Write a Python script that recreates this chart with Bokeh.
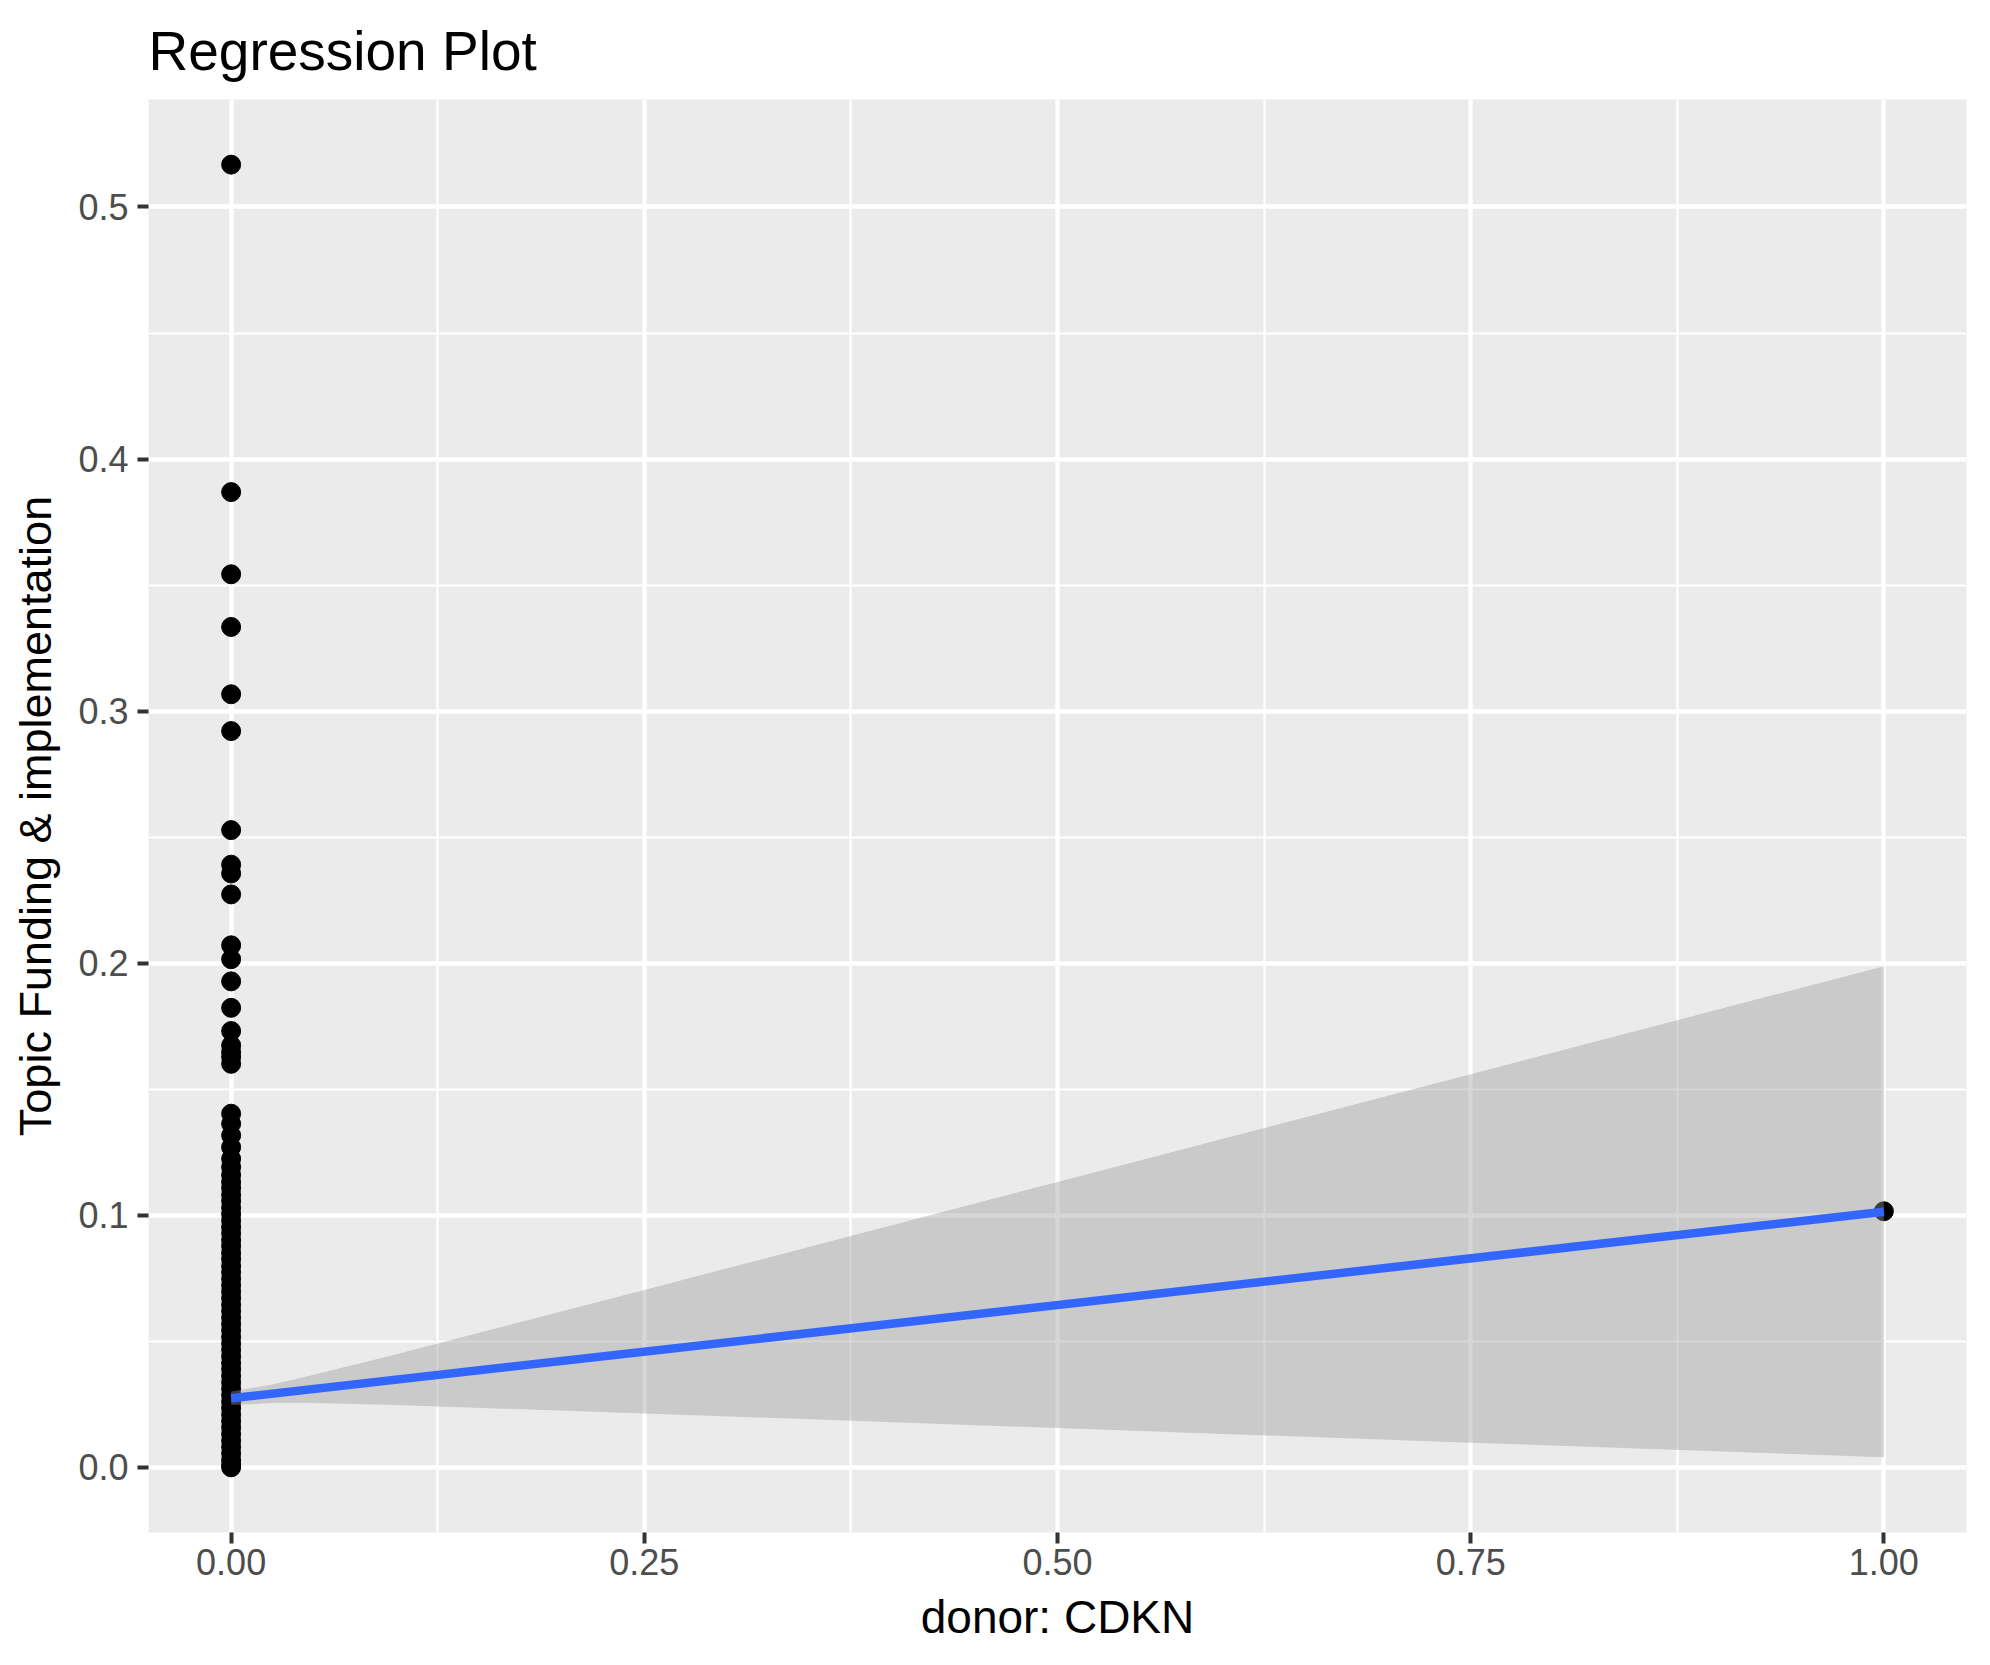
from bokeh.plotting import figure
from bokeh.models import FixedTicker, Title
from bokeh.embed import file_html
from bokeh.resources import INLINE

# ---- data ----
pts_x0_y = [
    0.5168, 0.3869, 0.3543, 0.3334, 0.3067, 0.2921, 0.2528, 0.2391, 0.2356,
    0.2273, 0.2071, 0.2016, 0.1928, 0.1823, 0.1731, 0.1674, 0.1648, 0.1628,
    0.1601, 0.1403, 0.1363, 0.1317, 0.1270, 0.1224, 0.1191, 0.1160, 0.1132,
    0.1108, 0.1081, 0.1057, 0.1030, 0.1004, 0.0979, 0.0953, 0.0928, 0.0901,
    0.0877, 0.0850, 0.0826, 0.0799, 0.0774, 0.0748, 0.0722, 0.0697, 0.0671,
    0.0645, 0.0620, 0.0594, 0.0568, 0.0543, 0.0517, 0.0491, 0.0466, 0.0440,
    0.0414, 0.0389, 0.0363, 0.0337, 0.0312, 0.0286, 0.0260, 0.0235, 0.0209,
    0.0183, 0.0158, 0.0132, 0.0106, 0.0081, 0.0055, 0.0029, 0.0010, 0.0000,
]
pts_x1_y = [0.1016]

fit_x = [0.0, 1.0]
fit_y = [0.0274, 0.1014]

band_x = [0.0, 0.025, 0.05, 0.10, 0.25, 0.50, 0.75, 1.00]
band_lo = [0.0247, 0.0255, 0.0255, 0.0247, 0.0214, 0.0156, 0.0098, 0.0040]
band_hi = [0.0301, 0.0329, 0.0367, 0.0449, 0.0704, 0.1132, 0.1560, 0.1988]

x_ticks = [0.0, 0.25, 0.5, 0.75, 1.0]
x_minor = [0.125, 0.375, 0.625, 0.875]
x_labels = {0.0: "0.00", 0.25: "0.25", 0.5: "0.50", 0.75: "0.75", 1.0: "1.00"}
y_ticks = [0.0, 0.1, 0.2, 0.3, 0.4, 0.5]
y_minor = [0.05, 0.15, 0.25, 0.35, 0.45]
y_labels = {0.0: "0.0", 0.1: "0.1", 0.2: "0.2", 0.3: "0.3", 0.4: "0.4", 0.5: "0.5"}

title_text = "Regression Plot"
x_title = "donor: CDKN"
y_title = "Topic Funding & implementation"

FONT = "Liberation Sans"

# ---- figure ----
xmin, xmax = 0.0, 1.0
ymin, ymax = 0.0, max(pts_x0_y)
xpad = (xmax - xmin) * 0.05
ypad = (ymax - ymin) * 0.05

p = figure(
    width=1982, height=1657,
    x_range=(xmin - xpad, xmax + xpad),
    y_range=(ymin - ypad, ymax + ypad),
    output_backend="svg", toolbar_location=None,
    min_border_left=148, min_border_right=16,
    min_border_top=99, min_border_bottom=125,
)
p.background_fill_color = "#EBEBEB"
p.border_fill_color = "white"
p.outline_line_color = None

p.title = Title(text=title_text, text_font=FONT, text_font_size="55px",
                text_font_style="normal", text_color="black", align="left",
                vertical_align="top", standoff=32)

# grids
p.xaxis.ticker = FixedTicker(ticks=x_ticks, minor_ticks=x_minor)
p.yaxis.ticker = FixedTicker(ticks=y_ticks, minor_ticks=y_minor)
for g in (p.xgrid, p.ygrid):
    g.grid_line_color = "white"
    g.grid_line_width = 4.4
    g.minor_grid_line_color = "white"
    g.minor_grid_line_width = 2.2

# axes
for ax in (p.xaxis, p.yaxis):
    ax.axis_line_color = None
    ax.major_tick_line_color = "#333333"
    ax.major_tick_line_width = 4
    ax.major_tick_out = 11
    ax.major_tick_in = 0
    ax.minor_tick_line_color = None
    ax.major_label_text_font = FONT
    ax.major_label_text_font_size = "36px"
    ax.major_label_text_color = "#4D4D4D"
    ax.axis_label_text_font = FONT
    ax.axis_label_text_font_size = "46px"
    ax.axis_label_text_font_style = "normal"
    ax.axis_label_text_color = "black"
p.yaxis.axis_label_text_font_size = "45px"
p.xaxis.major_label_overrides = x_labels
p.yaxis.major_label_overrides = y_labels
p.xaxis.axis_label = x_title
p.yaxis.axis_label = y_title
p.xaxis.major_label_standoff = 5
p.yaxis.major_label_standoff = 9
p.xaxis.axis_label_standoff = 13
p.yaxis.axis_label_standoff = 14

# points (drawn first, like geom_point)
p.scatter([0.0] * len(pts_x0_y), pts_x0_y, size=19, color="black")
p.scatter([1.0] * len(pts_x1_y), pts_x1_y, size=19, color="black")

# confidence band and fitted line
p.varea(x=band_x, y1=band_lo, y2=band_hi, fill_color="#999999", fill_alpha=0.4)
p.line(fit_x, fit_y, line_color="#3366FF", line_width=8.5)

open("out.html", "w").write(file_html(p, INLINE))
